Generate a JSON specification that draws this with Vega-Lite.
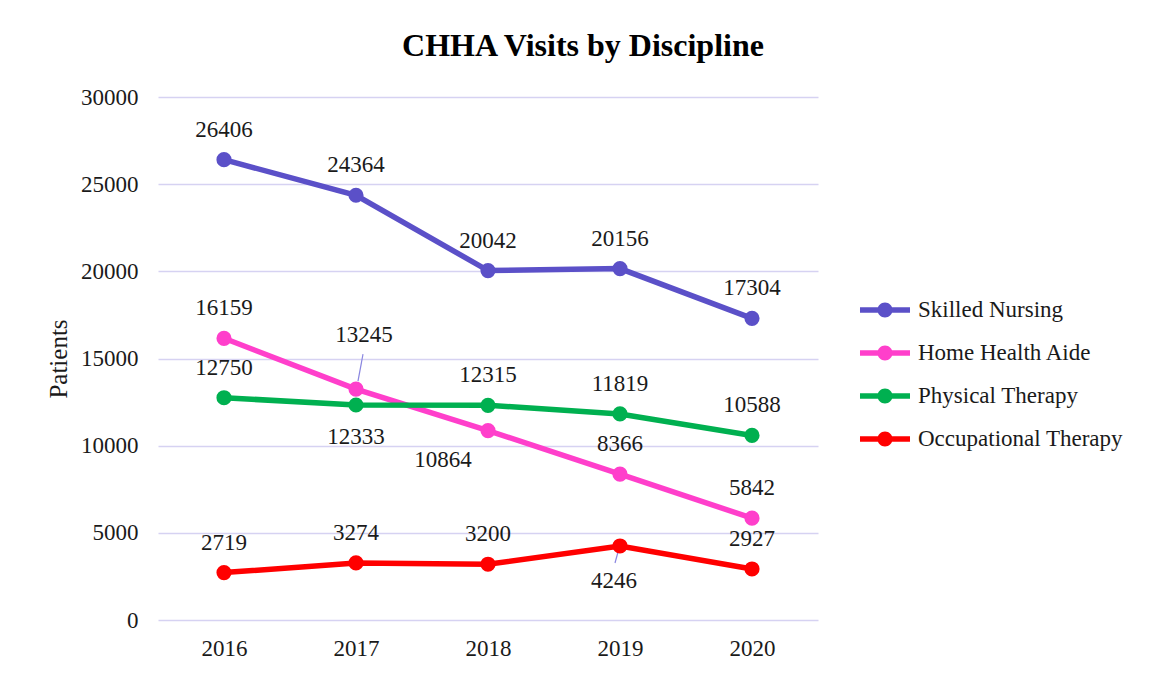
{
  "$schema": "https://vega.github.io/schema/vega-lite/v6.json",
  "width": 660,
  "height": 523,
  "autosize": {"type": "none"},
  "padding": {"left": 158, "top": 97, "right": 335, "bottom": 57},
  "background": "white",
  "title": {
    "text": "CHHA Visits by Discipline",
    "font": "Liberation Serif",
    "fontSize": 32,
    "fontWeight": "bold",
    "color": "#000000",
    "anchor": "middle",
    "frame": "group",
    "dx": 95,
    "offset": 23
  },
  "data": {
    "values": [
      {"year": "2016", "series": "Skilled Nursing", "value": 26406},
      {"year": "2017", "series": "Skilled Nursing", "value": 24364},
      {"year": "2018", "series": "Skilled Nursing", "value": 20042},
      {"year": "2019", "series": "Skilled Nursing", "value": 20156},
      {"year": "2020", "series": "Skilled Nursing", "value": 17304},
      {"year": "2016", "series": "Home Health Aide", "value": 16159},
      {"year": "2017", "series": "Home Health Aide", "value": 13245},
      {"year": "2018", "series": "Home Health Aide", "value": 10864},
      {"year": "2019", "series": "Home Health Aide", "value": 8366},
      {"year": "2020", "series": "Home Health Aide", "value": 5842},
      {"year": "2016", "series": "Physical Therapy", "value": 12750},
      {"year": "2017", "series": "Physical Therapy", "value": 12333},
      {"year": "2018", "series": "Physical Therapy", "value": 12315},
      {"year": "2019", "series": "Physical Therapy", "value": 11819},
      {"year": "2020", "series": "Physical Therapy", "value": 10588},
      {"year": "2016", "series": "Occupational Therapy", "value": 2719},
      {"year": "2017", "series": "Occupational Therapy", "value": 3274},
      {"year": "2018", "series": "Occupational Therapy", "value": 3200},
      {"year": "2019", "series": "Occupational Therapy", "value": 4246},
      {"year": "2020", "series": "Occupational Therapy", "value": 2927}
    ]
  },
  "encoding": {
    "x": {
      "field": "year",
      "type": "ordinal",
      "scale": {"type": "point", "padding": 0.5},
      "axis": {
        "title": null,
        "labelAngle": 0,
        "domain": false,
        "ticks": false,
        "tickSize": 0,
        "grid": false,
        "labelPadding": 17,
        "labelFont": "Liberation Serif",
        "labelFontSize": 23,
        "labelColor": "#1a1a1a"
      }
    },
    "y": {
      "field": "value",
      "type": "quantitative",
      "scale": {"domain": [0, 30000]},
      "axis": {
        "title": "Patients",
        "titleFont": "Liberation Serif",
        "titleFontSize": 25,
        "titleFontWeight": "normal",
        "titleColor": "#1a1a1a",
        "titlePadding": 9,
        "values": [0, 5000, 10000, 15000, 20000, 25000, 30000],
        "format": "d",
        "domain": false,
        "ticks": false,
        "tickSize": 0,
        "labelPadding": 20,
        "labelFont": "Liberation Serif",
        "labelFontSize": 23,
        "labelColor": "#1a1a1a",
        "gridColor": "#d6d2f2",
        "gridWidth": 1.5,
        "gridOpacity": 1
      }
    }
  },
  "layer": [
    {
      "transform": [{"filter": "datum.series == 'Home Health Aide' && datum.year == '2017'"}],
      "mark": {"type": "rule", "color": "#8a86e0", "strokeWidth": 1.2, "xOffset": 2, "yOffset": -8, "x2Offset": 7, "y2Offset": -35},
      "encoding": {"x2": {"field": "year"}, "y2": {"field": "value"}}
    },
    {
      "transform": [{"filter": "datum.series == 'Occupational Therapy' && datum.year == '2019'"}],
      "mark": {"type": "rule", "color": "#8a86e0", "strokeWidth": 1.2, "xOffset": -2, "yOffset": 6, "x2Offset": -5, "y2Offset": 17},
      "encoding": {"x2": {"field": "year"}, "y2": {"field": "value"}}
    },
    {
      "mark": {"type": "line", "strokeWidth": 5.5, "point": {"size": 230, "filled": true, "opacity": 1}},
      "encoding": {
        "color": {
          "field": "series",
          "type": "nominal",
          "scale": {
            "domain": ["Skilled Nursing", "Home Health Aide", "Physical Therapy", "Occupational Therapy"],
            "range": ["#5b50c8", "#ff3fcb", "#00b050", "#ff0000"]
          },
          "legend": {
            "title": null,
            "orient": "none",
            "legendX": 712,
            "legendY": 198,
            "symbolType": "M-1.667,-0.183 H1.667 V0.183 H-1.667 Z M-0.5,0 A0.5,0.5 0 1,1 0.5,0 A0.5,0.5 0 1,1 -0.5,0 Z",
            "symbolSize": 900,
            "symbolStrokeWidth": 0,
            "labelOffset": 18,
            "rowPadding": 16,
            "labelFont": "Liberation Serif",
            "labelFontSize": 23,
            "labelColor": "#1a1a1a",
            "labelLimit": 400,
            "encode": {
              "symbols": {
                "update": {
                  "fill": {"scale": "color", "field": "value"},
                  "strokeWidth": {"value": 0},
                  "opacity": {"value": 1}
                }
              }
            }
          }
        }
      }
    },
    {
      "transform": [
        {"filter": "!((datum.series == 'Physical Therapy' && datum.year == '2017') || (datum.series == 'Home Health Aide' && (datum.year == '2017' || datum.year == '2018')) || (datum.series == 'Occupational Therapy' && datum.year == '2019'))"}
      ],
      "mark": {"type": "text", "dy": -30, "font": "Liberation Serif", "fontSize": 23, "color": "#1a1a1a", "baseline": "middle"},
      "encoding": {"text": {"field": "value", "type": "quantitative", "format": "d"}}
    },
    {
      "transform": [{"filter": "datum.series == 'Physical Therapy' && datum.year == '2017'"}],
      "mark": {"type": "text", "dy": 32, "font": "Liberation Serif", "fontSize": 23, "color": "#1a1a1a", "baseline": "middle"},
      "encoding": {"text": {"field": "value", "type": "quantitative", "format": "d"}}
    },
    {
      "transform": [{"filter": "datum.series == 'Home Health Aide' && datum.year == '2018'"}],
      "mark": {"type": "text", "dx": -45, "dy": 29, "font": "Liberation Serif", "fontSize": 23, "color": "#1a1a1a", "baseline": "middle"},
      "encoding": {"text": {"field": "value", "type": "quantitative", "format": "d"}}
    },
    {
      "transform": [{"filter": "datum.series == 'Home Health Aide' && datum.year == '2017'"}],
      "mark": {"type": "text", "dx": 8, "dy": -54, "font": "Liberation Serif", "fontSize": 23, "color": "#1a1a1a", "baseline": "middle"},
      "encoding": {"text": {"field": "value", "type": "quantitative", "format": "d"}}
    },
    {
      "transform": [{"filter": "datum.series == 'Occupational Therapy' && datum.year == '2019'"}],
      "mark": {"type": "text", "dx": -6, "dy": 35, "font": "Liberation Serif", "fontSize": 23, "color": "#1a1a1a", "baseline": "middle"},
      "encoding": {"text": {"field": "value", "type": "quantitative", "format": "d"}}
    }
  ],
  "config": {
    "view": {"stroke": null},
    "font": "Liberation Serif"
  }
}
